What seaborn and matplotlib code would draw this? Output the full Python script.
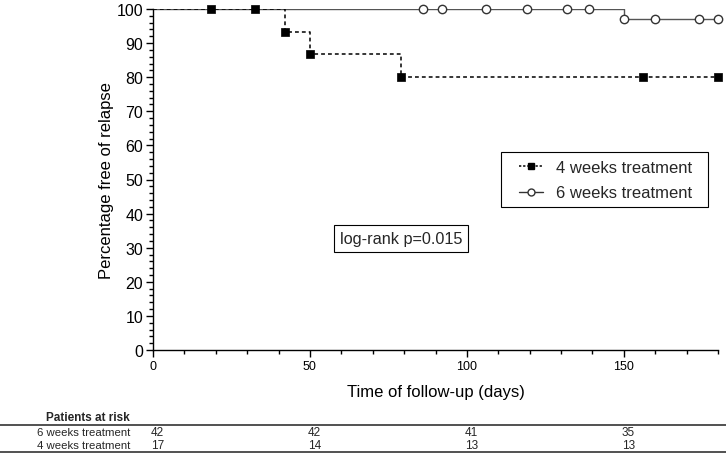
import numpy as np
import pandas as pd
import seaborn as sns
import matplotlib.pyplot as plt
from matplotlib.lines import Line2D
from matplotlib.patches import Rectangle
from matplotlib.ticker import MultipleLocator
import matplotlib.transforms as mtransforms

# ── Datos Kaplan-Meier ──
t4_steps = [0, 42, 50, 79, 180]
s4_steps = [100, 93.3, 86.7, 80, 80]
t4_marks = [18.5, 32.5, 42, 50, 79, 156, 180]
s4_marks = [100, 100, 93.3, 86.7, 80, 80, 80]

t6_steps = [0, 150, 180]
s6_steps = [100, 97.1, 97.1]
t6_marks = [86, 92, 106, 119, 132, 139, 150, 160, 174, 180]
s6_marks = [100, 100, 100, 100, 100, 100, 97.1, 97.1, 97.1, 97.1]

risk_times = [0, 50, 100, 150]
risk_6w = [42, 42, 41, 35]
risk_4w = [17, 14, 13, 13]

sns.set_theme(style="ticks")
plt.rcParams['font.family'] = ['Liberation Sans', 'DejaVu Sans']

W, H = 726, 456
fig = plt.figure(figsize=(W/100, H/100), dpi=100)
ax = fig.add_axes([153/W, 1 - 351/H, (718 - 153)/W, (351 - 10)/H])

df6 = pd.DataFrame({"t": t6_steps, "s": s6_steps})
df4 = pd.DataFrame({"t": t4_steps, "s": s4_steps})
sns.lineplot(data=df6, x="t", y="s", ax=ax, drawstyle="steps-post",
             color="#555555", lw=1.0, estimator=None, sort=False)
sns.lineplot(data=df4, x="t", y="s", ax=ax, drawstyle="steps-post",
             color="black", lw=1.1, linestyle=(0, (2.5, 2)), estimator=None, sort=False)

sns.scatterplot(x=t6_marks, y=s6_marks, ax=ax, marker="o", s=36,
                facecolor="white", edgecolor="#333333", linewidth=1.0, zorder=4, clip_on=False)
sns.scatterplot(x=t4_marks, y=s4_marks, ax=ax, marker="s", s=36,
                color="black", edgecolor="black", linewidth=0.5, zorder=5, clip_on=False)

ax.set_xlim(0, 180)
ax.set_ylim(0, 100)
ax.xaxis.set_major_locator(MultipleLocator(50))
ax.xaxis.set_minor_locator(MultipleLocator(10))
ax.yaxis.set_major_locator(MultipleLocator(10))
ax.yaxis.set_minor_locator(MultipleLocator(2))
ax.tick_params(axis="both", which="major", length=5, width=1, labelsize=11.5,
               color="black", labelcolor="black", pad=2)
ax.tick_params(axis="both", which="minor", length=3, width=1, color="black")
ax.tick_params(axis="x", labelsize=9)
sns.despine(ax=ax)
for sp in ["left", "bottom"]:
    ax.spines[sp].set_color("black")
    ax.spines[sp].set_linewidth(1.0)

ax.set_xlabel("Time of follow-up (days)", fontsize=12, color="black", labelpad=9)
ax.set_ylabel("Percentage free of relapse", fontsize=12, color="black", labelpad=2)

# leyenda sin marco + caja dibujada aparte
handles = [
    Line2D([], [], color="black", lw=1.1, linestyle=(0, (1.5, 1.2)), marker="s",
           markersize=5, markerfacecolor="black"),
    Line2D([], [], color="#333333", lw=1.0, marker="o", markersize=5,
           markerfacecolor="white"),
]
leg = ax.legend(handles, ["4 weeks treatment", "6 weeks treatment"],
                loc="upper left", bbox_to_anchor=(519/W, 1 - 161/H),
                bbox_transform=fig.transFigure,
                fontsize=12, frameon=False, handlelength=1.45,
                handletextpad=0.75, borderpad=0, labelspacing=0.62, borderaxespad=0)
fig.add_artist(Rectangle((501/W, 1 - 208/H), (708 - 501)/W, (208 - 153)/H,
                         transform=fig.transFigure, fill=False, ec="black", lw=0.8))

ax.text(79, 32.7, "log-rank p=0.015", fontsize=11.7, ha="center", va="center",
        bbox=dict(boxstyle="square,pad=0.35", fc="white", ec="black", lw=0.8))

# ── Tabla de pacientes en riesgo ──
trans = mtransforms.blended_transform_factory(ax.transData, fig.transFigure)
fig.text(88/W, 1 - 418/H, "Patients at risk", fontsize=8.5, fontweight="bold",
         ha="center", va="center")
fig.add_artist(Line2D([0, 1], [1 - 426/H] * 2, color="#333333", lw=1.2,
                      transform=fig.transFigure))
fig.add_artist(Line2D([0, 1], [1 - 453/H] * 2, color="#333333", lw=1.2,
                      transform=fig.transFigure))
for yy, name, vals in [(433, "6 weeks treatment", risk_6w), (446, "4 weeks treatment", risk_4w)]:
    fig.text(130/W, 1 - yy/H, name, fontsize=8.2, ha="right", va="center")
    for t, v in zip(risk_times, vals):
        ax.text(t + 1.5, 1 - yy/H, str(v), transform=trans, fontsize=8.5,
                ha="center", va="center")

fig.savefig("out.png", dpi=100, facecolor="white")
